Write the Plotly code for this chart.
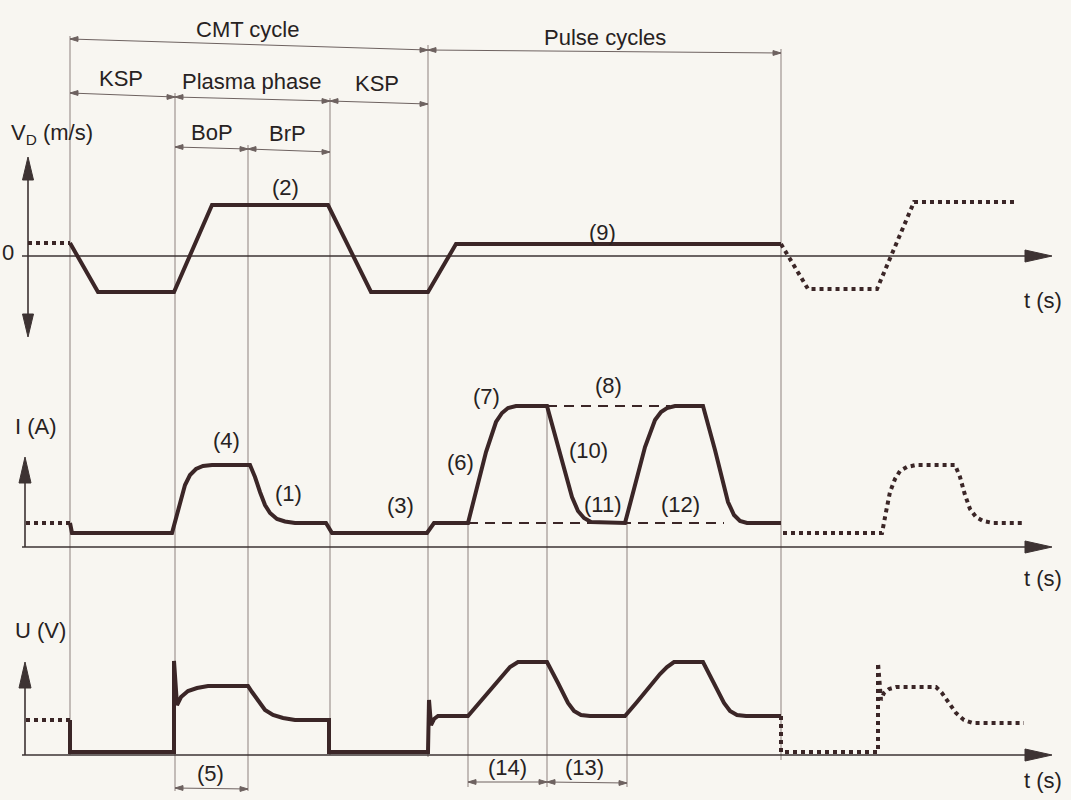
import plotly.graph_objects as go

W, H = 1071, 800
INK = "#3b2627"
THIN = "#8e817e"
DIM = "#6e6260"
AXIS = "#3d3333"
TXT = "#272222"
BG = "#f8f6f1"
FONT = "Liberation Sans, Arial, Helvetica, sans-serif"

# ---------------- data ----------------
# phase boundaries on the time axis
phase_t = [70, 175, 248, 330, 428, 468, 547, 627, 781]

# wire feed speed V_D
vd_pre_t = [28, 70]
vd_pre = [13, 13]
vd_t = [70, 98, 174, 212, 328, 371, 428, 456, 781]
vd_v = [13, -36, -36, 51, 51, -36, -36, 12, 12]
vd_next_t = [781, 808, 877, 914, 1017]
vd_next = [12, -33, -33, 54, 54]

# welding current I
i_pre_t = [26, 70]
i_pre = [24, 24]
i_t = [70, 72, 172, 178, 185, 190, 196, 203, 212,
       250, 255, 260, 265, 270, 277, 285, 295,
       326, 332, 427, 434, 468,
       476, 486, 496, 502, 508, 516,
       547, 560, 572, 578, 584, 591,
       625, 634, 645, 655, 661, 667, 675,
       703, 715, 728, 734, 740, 747, 781]
i_v = [24, 14, 14, 35, 62, 72, 78, 81, 82,
       82, 70, 55, 42, 34, 28, 25.5, 24,
       24, 14, 14, 24, 24,
       55, 95, 125, 134, 139, 141,
       141, 95, 50, 36, 29, 25,
       24, 58, 100, 127, 135, 139, 141,
       141, 97, 45, 32, 26, 24, 24]
i_next_t = [783, 882, 886, 890, 895, 900, 907, 916, 955, 960, 965, 970, 976, 983, 993, 1022]
i_next = [14, 14, 35, 55, 68, 76, 80, 82, 82, 70, 52, 38, 30, 26, 24, 24]
i_peak_ref_t = [547, 670]
i_peak_ref = [141, 141]
i_base_ref_t = [468, 724]
i_base_ref = [24, 24]

# arc voltage U
u_pre_t = [26, 70]
u_pre = [35, 35]
u_t = [70, 70, 174, 174, 177, 181, 188, 197, 208,
       248, 252, 258, 265, 273, 283, 295,
       329, 329, 428, 429, 431, 434, 438,
       468, 480, 492, 503, 510, 518,
       547, 558, 568, 574, 581, 590,
       625, 637, 649, 660, 667, 674,
       703, 714, 724, 730, 737, 746, 781]
u_v = [35, 3, 3, 94, 50, 58, 64, 67, 69,
       69, 63, 54, 45, 40, 37, 35,
       35, 3, 3, 55, 30, 36, 39,
       39, 53, 68, 81, 88, 93,
       93, 72, 52, 44, 40, 39,
       39, 53, 68, 81, 88, 93,
       93, 72, 52, 44, 40, 39, 39]
u_next_t = [781, 781, 878, 878, 881, 884, 889, 896, 936, 942, 949, 956, 964, 973, 1024]
u_next = [39, 3, 3, 92, 55, 62, 66, 68, 68, 62, 52, 42, 35, 32, 32]

# ---------------- panel geometry (baseline, top, bottom in px) ----------------
PANELS = {"y": (256, 145, 345), "y2": (547, 380, 565), "y3": (755, 625, 775)}


def P(py):
    return 1 - py / H


fig = go.Figure()


def wave(t, v, yax, dotted=False, dashed=False, width=4):
    dash = "solid"
    if dotted:
        dash = "4px,4px"
    if dashed:
        dash = "10px,7px"
    fig.add_trace(go.Scatter(x=t, y=v, yaxis=yax, mode="lines",
                             line=dict(color=INK, width=width, dash=dash),
                             hoverinfo="skip", showlegend=False))


wave(vd_pre_t, vd_pre, "y", dotted=True)
wave(vd_t, vd_v, "y")
wave(vd_next_t, vd_next, "y", dotted=True)

wave(i_peak_ref_t, i_peak_ref, "y2", dashed=True, width=2)
wave(i_base_ref_t, i_base_ref, "y2", dashed=True, width=2)
wave(i_pre_t, i_pre, "y2", dotted=True)
wave(i_t, i_v, "y2")
wave(i_next_t, i_next, "y2", dotted=True)

wave(u_pre_t, u_pre, "y3", dotted=True)
wave(u_t, u_v, "y3")
wave(u_next_t, u_next, "y3", dotted=True)

shapes = []


def line(x0, y0, x1, y1, yref="paper", color=THIN, width=1):
    shapes.append(dict(type="line", xref="x", yref=yref, x0=x0, y0=y0, x1=x1, y1=y1,
                       line=dict(color=color, width=width), layer="below"))


def tri(pts, yref, color):
    d = "M " + " L ".join(f"{x},{y}" for x, y in pts) + " Z"
    shapes.append(dict(type="path", xref="x", yref=yref, path=d,
                       fillcolor=color, line=dict(color=color, width=1)))


# phase boundary verticals (top px, bottom px)
v_extent = {70: (36, 755), 175: (93, 791), 248: (145, 791), 330: (98, 755),
            428: (45, 757), 468: (521, 787), 547: (405, 787), 627: (521, 787),
            781: (49, 760)}
for t in phase_t:
    top, bot = v_extent[t]
    line(t, P(top), t, P(bot))


# dimension lines with small arrowheads at both ends
def dim(x0, x1, py0, py1):
    line(x0, P(py0), x1, P(py1), color=DIM, width=1)
    L, hw = 8, 2.4
    tri([(x0, P(py0)), (x0 + L, P(py0 - hw)), (x0 + L, P(py0 + hw))], "paper", DIM)
    tri([(x1, P(py1)), (x1 - L, P(py1 - hw)), (x1 - L, P(py1 + hw))], "paper", DIM)


dim(70, 428, 39, 50)
dim(428, 781, 50, 53)
dim(70, 175, 93, 97)
dim(175, 330, 97, 101)
dim(330, 428, 101, 104)
dim(175, 248, 147, 149)
dim(248, 330, 149, 152)
dim(175, 248, 788, 789)
dim(468, 547, 782, 782)
dim(547, 627, 782, 783)

# time axes with arrowheads
for yax in ["y", "y2", "y3"]:
    line(22, 0, 1030, 0, yref=yax, color=AXIS, width=1.6)
    tri([(1052, 0), (1025, 6), (1025, -6)], yax, AXIS)

# V_D double-headed axis
line(28, -62, 28, 80, yref="y", color=AXIS, width=1.6)
tri([(28, 99), (22.5, 76), (33.5, 76)], "y", AXIS)
tri([(28, -81), (22.5, -58), (33.5, -58)], "y", AXIS)
# I axis
line(25, 0, 25, 70, yref="y2", color=AXIS, width=1.6)
tri([(25, 90), (19, 64), (31, 64)], "y2", AXIS)
# U axis
line(25, 0, 25, 72, yref="y3", color=AXIS, width=1.6)
tri([(25, 93), (19, 67), (31, 67)], "y3", AXIS)

# ---------------- labels ----------------
labels = [
    ("CMT cycle", 248, 29), ("Pulse cycles", 605, 37),
    ("KSP", 121, 78), ("Plasma phase", 251, 81), ("KSP", 377, 84),
    ("BoP", 212, 132), ("BrP", 287, 133),
    ("V<sub>D</sub> (m/s)", 52, 134), ("0", 8, 253),
    ("(2)", 285, 187), ("(9)", 602, 232), ("t (s)", 1043, 300),
    ("I (A)", 36, 427),
    ("(4)", 226, 440), ("(1)", 288, 493), ("(3)", 400, 506),
    ("(6)", 460, 462), ("(7)", 486, 396), ("(8)", 608, 386),
    ("(10)", 588, 450), ("(11)", 603, 504), ("(12)", 680, 504),
    ("t (s)", 1043, 578),
    ("U (V)", 40, 630),
    ("(5)", 210, 773), ("(14)", 507, 767), ("(13)", 584, 767),
    ("t (s)", 1043, 780),
]
annotations = [dict(text=s, x=x, y=P(py), xref="x", yref="paper", showarrow=False,
                    xanchor="center", yanchor="middle",
                    font=dict(family=FONT, size=22, color=TXT))
               for s, x, py in labels]

layout = dict(
    width=W, height=H, margin=dict(l=0, r=0, t=0, b=0),
    paper_bgcolor=BG, plot_bgcolor=BG,
    xaxis=dict(range=[0, W], domain=[0, 1], visible=False, fixedrange=True, anchor="y"),
    shapes=shapes, annotations=annotations, showlegend=False,
)
for key, (base, top, bot) in PANELS.items():
    name = "yaxis" + key[1:]
    layout[name] = dict(domain=[P(bot), P(top)], range=[base - bot, base - top],
                        visible=False, fixedrange=True, anchor="x")

fig.update_layout(**layout)
fig.write_html("out.html")
